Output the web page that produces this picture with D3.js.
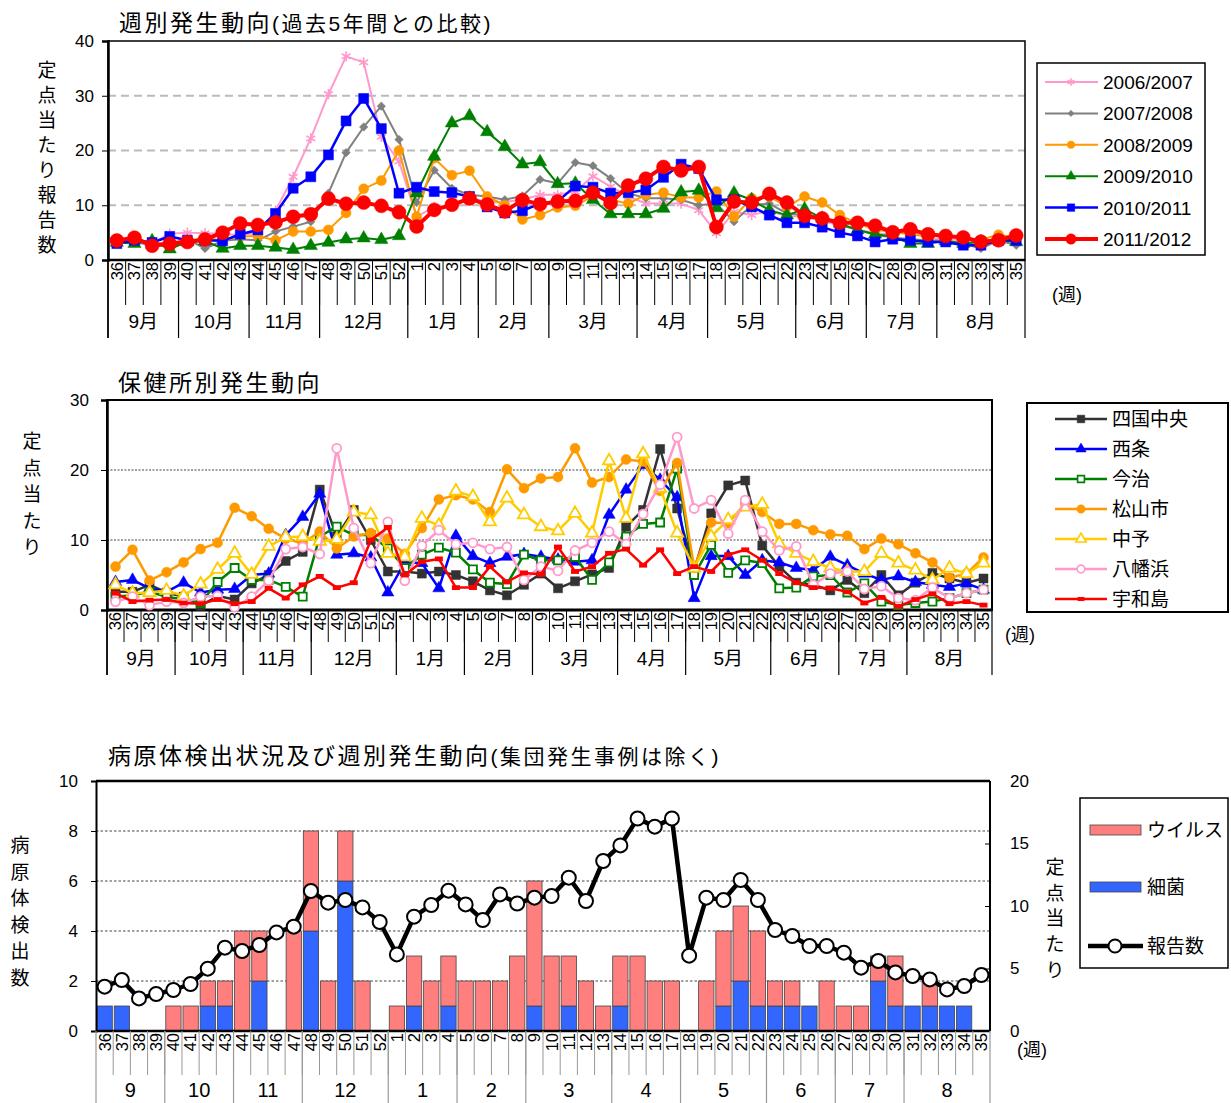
<!DOCTYPE html>
<html><head><meta charset="utf-8">
<script src="https://cdn.jsdelivr.net/npm/d3@7"></script>
<style>
body{margin:0;background:#fff;}
svg{font-family:"Liberation Sans","Noto Sans CJK JP",sans-serif;}
</style></head><body>
<svg id="c" width="1231" height="1103"></svg>
<script>
// ---- week / month categories (season starts at week 36) ----
const weeks = [36,37,38,39,40,41,42,43,44,45,46,47,48,49,50,51,52,
  1,2,3,4,5,6,7,8,9,10,11,12,13,14,15,16,17,
  18,19,20,21,22,23,24,25,26,27,28,29,30,31,32,33,34,35];
const months = ["9","10","11","12","1","2","3","4","5","6","7","8"];
const monthWeeks = [4,4,4,5,4,4,5,4,5,4,4,5];

// ---- chart 1: reports per sentinel, this season vs previous 5 seasons ----
const seasonNames = ["2006/2007","2007/2008","2008/2009","2009/2010","2010/2011","2011/2012"];
const s2006 = [3.8,3.5,3.0,4.8,5.0,4.9,4.8,4.5,5.0,9.0,15.2,22.2,30.3,37.2,36.1,22.5,18.0,
  7.9,9.7,10.0,11.5,10.5,10.6,11.0,11.9,11.9,12.5,15.3,13.4,11.6,10.3,10.3,10.3,9.1,
  4.9,8.8,8.2,9.0,8.0,8.0,7.0,6.5,5.5,5.0,4.5,5.5,4.0,3.8,3.6,3.3,3.4,3.5];
const s2007 = [3.5,3.2,2.8,3.0,3.8,2.1,3.5,3.8,3.6,5.2,6.1,7.0,12.2,19.6,24.3,28.1,22.0,
  10.5,16.4,13.1,11.9,11.6,11.0,11.7,14.7,14.0,17.8,17.2,14.9,12.2,11.3,11.3,11.0,10.0,
  10.3,7.0,10.0,10.3,8.5,8.2,7.6,6.4,5.5,4.6,4.1,3.8,3.6,3.5,3.0,2.1,3.6,2.7];
const s2008 = [3.8,3.5,3.0,3.2,3.5,4.0,3.6,4.3,4.4,3.6,5.2,5.2,5.5,8.6,13.0,14.5,20.0,
  7.9,18.6,15.5,16.3,11.6,10.0,7.4,8.2,9.6,9.9,11.7,11.0,10.3,11.9,12.3,11.4,11.4,
  12.5,7.9,11.3,11.6,9.7,11.6,10.5,8.2,6.7,5.5,5.2,4.6,4.4,4.6,4.0,3.7,4.6,4.1];
const s2009 = [3.2,3.0,3.5,2.0,3.3,3.5,2.1,2.6,2.6,2.3,1.9,2.6,3.2,3.8,4.0,3.7,4.4,
  12.2,18.9,25.0,26.3,23.4,20.7,17.5,17.9,13.9,14.0,11.0,8.4,8.4,8.4,9.4,12.4,12.7,
  9.5,12.2,11.0,9.1,8.2,9.3,7.6,6.7,5.5,4.7,4.3,3.0,3.0,3.5,3.0,3.3,3.6,3.3];
const s2010 = [3.0,3.6,3.2,4.3,3.6,3.6,3.5,4.7,5.5,8.5,13.1,15.2,19.2,25.4,29.5,24.0,12.2,
  13.3,12.5,12.3,11.6,9.7,8.6,9.0,10.3,10.7,13.5,13.3,12.2,12.3,12.8,15.1,17.5,16.7,
  11.0,11.0,9.7,8.2,6.8,6.8,6.0,5.0,4.4,3.3,3.8,3.6,3.3,3.3,2.7,2.7,3.6,3.6];
const s2011 = [3.55,4.08,2.61,2.96,3.28,3.76,4.99,6.67,6.4,6.88,7.89,8.35,11.2,10.27,10.48,9.89,8.72,
  6.13,9.15,10.08,11.23,10.13,8.88,10.93,10.2,10.67,10.8,12.27,10.4,13.6,14.85,17.0,16.35,17.0,
  6.03,10.67,10.48,12.08,10.48,8.08,7.6,6.8,6.8,6.27,5.07,5.6,4.69,4.4,4.13,3.33,3.6,4.48];
const topTicks = [0,10,20,30,40];

// ---- chart 2: per health-centre district ----
const districtNames = ["四国中央","西条","今治","松山市","中予","八幡浜","宇和島"];
const dShikoku = [2.6,2.6,3.6,2.5,1.9,0.6,2.0,1.5,3.8,5.0,7.0,8.3,17.2,10.5,14.3,10.0,5.5,
  5.5,5.2,5.5,5.0,4.1,2.8,2.1,3.6,5.2,3.1,4.1,5.1,6.0,11.9,14.3,23.0,14.5,
  5.7,13.8,17.8,18.5,9.2,6.2,3.9,3.6,2.8,4.3,2.4,5.0,2.1,3.9,5.3,4.5,3.9,4.5];
const dSaijo = [4.0,4.3,3.1,2.6,3.9,2.5,2.9,3.0,5.0,5.2,10.7,13.3,16.6,7.9,8.1,7.5,2.5,
  6.8,6.7,3.1,10.6,7.7,6.7,7.6,8.0,7.6,7.2,6.9,7.1,13.6,17.2,20.7,18.6,16.1,
  1.7,7.7,7.7,5.0,7.1,6.8,6.0,5.7,7.6,6.4,5.2,4.3,4.8,4.0,3.6,3.3,3.8,2.9];
const dImabari = [1.9,2.1,2.6,1.9,1.5,1.0,4.0,6.0,4.3,4.3,3.3,1.9,10.5,11.9,10.7,10.7,8.8,
  6.0,7.9,8.9,8.2,5.8,3.9,3.7,7.9,7.1,7.1,7.6,4.3,6.8,10.5,12.3,12.5,20.2,
  5.0,9.3,5.3,7.1,6.7,3.1,3.2,4.8,5.0,2.5,3.8,1.2,0.7,1.0,1.2,1.7,2.4,2.9];
const dMatsuyama = [6.2,8.6,4.2,5.4,6.8,8.7,9.6,14.6,13.4,11.6,10.2,9.5,11.2,8.8,10.5,11.0,10.2,
  8.0,11.7,15.8,16.4,15.8,14.0,20.1,17.4,18.8,19.0,23.1,18.2,19.0,21.5,21.2,17.0,21.0,
  6.0,12.5,12.4,15.2,14.0,12.3,12.3,11.4,10.8,10.6,8.7,10.2,9.4,8.1,6.8,4.6,5.2,7.5];
const dChuyo = [3.6,2.4,2.5,2.8,2.0,3.7,5.8,8.1,5.1,9.1,10.4,10.5,9.8,10.1,14.0,13.6,8.1,
  7.6,13.1,12.1,17.0,16.2,12.6,16.0,13.6,11.9,11.3,13.8,11.0,21.3,13.1,22.3,17.4,11.0,
  6.0,10.5,12.9,14.7,15.1,9.5,8.1,6.9,6.0,5.5,5.5,8.1,6.7,5.7,4.3,6.0,5.2,6.7];
const dYawatahama = [1.2,1.9,0.7,1.2,1.0,1.9,2.0,0.4,1.9,4.2,8.7,9.0,8.0,23.1,11.7,6.7,12.6,
  4.2,9.2,11.4,9.4,9.6,8.7,9.0,4.3,6.2,5.6,8.5,9.6,11.2,9.4,13.7,17.9,24.7,
  14.5,15.7,10.9,15.7,11.2,8.5,9.1,3.6,5.2,5.5,3.0,3.4,1.7,1.4,3.2,1.7,2.4,2.9];
const dUwajima = [2.4,1.2,1.4,1.5,1.0,0.9,1.5,0.9,1.2,3.1,1.7,3.6,4.8,3.2,3.9,10.0,11.8,
  5.0,6.9,7.3,3.2,3.2,6.2,4.0,5.3,5.1,9.0,5.5,6.2,8.1,8.7,6.4,8.6,5.2,
  6.2,5.5,7.9,8.6,7.1,5.2,3.9,3.2,3.1,2.6,1.0,1.8,0.5,1.5,2.3,0.9,1.2,0.7];
const midTicks = [0,10,20,30];

// ---- chart 3: pathogen detections (stacked) and weekly reports ----
const virus = [0,0,0,0,1,1,1,1,4,2,0,4,4,2,2,2,0,
  1,2,2,2,2,2,2,3,5,3,2,2,1,2,3,2,2,
  0,2,3,3,3,1,1,0,2,1,1,1,2,0,1,0,0,0];
const bacteria = [1,1,0,0,0,0,1,1,0,2,0,0,4,0,6,0,0,
  0,1,0,1,0,0,0,0,1,0,1,0,0,1,0,0,0,
  0,0,1,2,1,1,1,1,0,0,0,2,1,1,1,1,1,0];
const reports = s2011;
const leftTicks = [0,2,4,6,8,10];
const rightTicks = [0,5,10,15,20];

const svg = d3.select("#c");

// marker drawing helper
function marker(g, type, size, color, filled, sw) {
  let p;
  if (type === "star") {
    p = g.append("path").attr("d", d3.symbol(d3.symbolAsterisk, size*size*0.9)())
      .attr("fill","none").attr("stroke", color).attr("stroke-width", sw||1.6);
    return p;
  }
  if (type === "dash") {
    return g.append("rect").attr("x",-size/2).attr("y",-size*0.3).attr("width",size).attr("height",size*0.6)
      .attr("fill",color);
  }
  let sym = {circle:d3.symbolCircle, square:d3.symbolSquare, triangle:d3.symbolTriangle, diamond:d3.symbolSquare}[type];
  let area = type === "circle" ? Math.PI*size*size/4 : type === "triangle" ? size*size*0.45 : size*size;
  p = g.append("path").attr("d", d3.symbol(sym, area)())
    .attr("fill", filled ? color : "#fff").attr("stroke", color).attr("stroke-width", filled ? 0.5 : (sw||2));
  if (type === "diamond") p.attr("transform","rotate(45)");
  return p;
}

// two-row category axis: week numbers (rotated) and months
function weekAxis(x, y0, rowH, monthH, suffix, sepColor, monthColor, fs, mfs) {
  const g = svg.append("g");
  const right = x.range()[1];
  const bw = x.bandwidth();
  g.selectAll(null).data(weeks.slice(1)).join("line")
    .attr("x1", d => x(d)).attr("x2", d => x(d)).attr("y1", y0).attr("y2", y0 + rowH)
    .attr("stroke", sepColor).attr("stroke-width", 1);
  const bounds = [0];
  monthWeeks.forEach(n => bounds.push(bounds[bounds.length-1] + n));
  const bx = i => i < weeks.length ? x(weeks[i]) : right;
  g.selectAll(null).data(bounds).join("line")
    .attr("x1", bx).attr("x2", bx).attr("y1", y0).attr("y2", y0 + rowH + monthH)
    .attr("stroke", monthColor).attr("stroke-width", 1.2);
  g.selectAll(null).data(weeks).join("text")
    .attr("transform", d => `translate(${x(d) + bw/2 + fs*0.36},${y0 + 2}) rotate(-90)`)
    .attr("text-anchor","end").attr("font-size", fs).attr("fill","#000")
    .text(d => d);
  g.selectAll(null).data(months).join("text")
    .attr("x", (d,i) => (bx(bounds[i]) + bx(bounds[i+1]))/2)
    .attr("y", y0 + rowH + monthH/2 + mfs*0.36)
    .attr("text-anchor","middle").attr("font-size", mfs).text(d => d + suffix);
  return g;
}

function vertLabel(text, x, y, step, fs) {
  svg.append("g").selectAll(null).data(Array.from(text)).join("text")
    .attr("x", x).attr("y", (d,i) => y + i*step).attr("text-anchor","middle")
    .attr("font-size", fs).text(d => d);
}

// =================== Chart 1 ===================
{
  const x = d3.scaleBand().domain(weeks).range([108, 1025]);
  const y = d3.scaleLinear().domain([0, 40]).range([260, 41]);
  const bw = x.bandwidth();
  const cx = (d,i) => x(weeks[i]) + bw/2;

  svg.append("text").attr("x",119).attr("y",31).attr("font-size",23).attr("letter-spacing",2.5)
    .text("週別発生動向").append("tspan").attr("font-size",21).attr("letter-spacing",2.5).text("(過去5年間との比較)");

  svg.append("g").selectAll(null).data([10,20,30]).join("line")
    .attr("x1",108).attr("x2",1025).attr("y1",d=>y(d)).attr("y2",d=>y(d))
    .attr("stroke","#bbb").attr("stroke-width",2).attr("stroke-dasharray","8,5");
  svg.append("rect").attr("x",108).attr("y",41).attr("width",917).attr("height",219)
    .attr("fill","none").attr("stroke","#000").attr("stroke-width",1.5);

  const ax = svg.append("g").attr("transform","translate(108,0)")
    .call(d3.axisLeft(y).tickValues(topTicks).tickSize(6).tickPadding(8));
  ax.select(".domain").attr("stroke-width",2.5);
  ax.selectAll("text").attr("font-size",17).attr("font-family","Liberation Sans");
  svg.append("line").attr("x1",108).attr("x2",1025).attr("y1",260).attr("y2",260).attr("stroke","#000").attr("stroke-width",2.5);

  weekAxis(x, 260, 45, 33, "月", "#000", "#000", 16.5, 19);
  svg.append("line").attr("x1",108).attr("x2",108).attr("y1",260).attr("y2",338).attr("stroke","#000").attr("stroke-width",1.5);
  svg.append("text").attr("x",1052).attr("y",301).attr("font-size",18).text("(週)");

  vertLabel("定点当たり報告数", 47, 77, 25, 19);

  const series = [
    {v:s2006, c:"#FF99CC", m:"star", ms:9, w:2},
    {v:s2007, c:"#808080", m:"diamond", ms:6, w:2},
    {v:s2008, c:"#FF9900", m:"circle", ms:10, w:2},
    {v:s2009, c:"#008000", m:"triangle", ms:13, w:2},
    {v:s2010, c:"#0000FF", m:"square", ms:10, w:2.5},
    {v:s2011, c:"#FF0000", m:"circle", ms:14, w:4}
  ];
  series.forEach(s => {
    const g = svg.append("g");
    g.append("path").attr("d", d3.line().x(cx).y(d => y(d))(s.v))
      .attr("fill","none").attr("stroke",s.c).attr("stroke-width",s.w).attr("stroke-linejoin","round");
    s.v.forEach((d,i) => {
      const mg = g.append("g").attr("transform",`translate(${cx(d,i)},${y(d)})`);
      marker(mg, s.m, s.ms, s.c, true);
    });
  });

  // legend
  const lg = svg.append("g");
  lg.append("rect").attr("x",1037).attr("y",63).attr("width",168).attr("height",192)
    .attr("fill","#fff").attr("stroke","#000").attr("stroke-width",1.5);
  series.forEach((s,i) => {
    const yy = 82 + i*31.4;
    lg.append("line").attr("x1",1045).attr("x2",1098).attr("y1",yy).attr("y2",yy)
      .attr("stroke",s.c).attr("stroke-width",s.w);
    marker(lg.append("g").attr("transform",`translate(1071,${yy})`), s.m, s.ms*0.75, s.c, true);
    lg.append("text").attr("x",1103).attr("y",yy+7).attr("font-size",19).text(seasonNames[i]);
  });
}

// =================== Chart 2 ===================
{
  const x = d3.scaleBand().domain(weeks).range([107, 992]);
  const y = d3.scaleLinear().domain([0, 30]).range([610, 400]);
  const bw = x.bandwidth();
  const cx = (d,i) => x(weeks[i]) + bw/2;

  svg.append("text").attr("x",118).attr("y",391).attr("font-size",23).attr("letter-spacing",2.5).text("保健所別発生動向");

  svg.append("g").selectAll(null).data([10,20]).join("line")
    .attr("x1",107).attr("x2",992).attr("y1",d=>y(d)).attr("y2",d=>y(d))
    .attr("stroke","#444").attr("stroke-width",1).attr("stroke-dasharray","2,1.5");
  svg.append("rect").attr("x",107).attr("y",400).attr("width",885).attr("height",210)
    .attr("fill","none").attr("stroke","#000").attr("stroke-width",2);

  const ax = svg.append("g").attr("transform","translate(107,0)")
    .call(d3.axisLeft(y).tickValues(midTicks).tickSize(6).tickPadding(12));
  ax.select(".domain").attr("stroke-width",2.5);
  ax.selectAll("text").attr("font-size",17).attr("font-family","Liberation Sans");
  svg.append("line").attr("x1",107).attr("x2",992).attr("y1",610).attr("y2",610).attr("stroke","#000").attr("stroke-width",3);

  weekAxis(x, 610, 32, 33, "月", "#000", "#000", 16.5, 19);
  svg.append("line").attr("x1",107).attr("x2",107).attr("y1",610).attr("y2",675).attr("stroke","#000").attr("stroke-width",1.5);
  svg.append("text").attr("x",1005).attr("y",641).attr("font-size",18).text("(週)");

  vertLabel("定点当たり", 32, 448, 26.5, 19);

  const series = [
    {v:dShikoku, c:"#333333", m:"square", ms:9, f:true},
    {v:dSaijo, c:"#0000FF", m:"triangle", ms:12, f:true},
    {v:dImabari, c:"#008000", m:"square", ms:8, f:false},
    {v:dMatsuyama, c:"#FF9900", m:"circle", ms:10, f:true},
    {v:dChuyo, c:"#FFCC00", m:"triangle", ms:12, f:false},
    {v:dYawatahama, c:"#FF99CC", m:"circle", ms:9, f:false},
    {v:dUwajima, c:"#FF0000", m:"dash", ms:8, f:true}
  ];
  series.forEach(s => {
    const g = svg.append("g");
    g.append("path").attr("d", d3.line().x(cx).y(d => y(d))(s.v))
      .attr("fill","none").attr("stroke",s.c).attr("stroke-width",2.5).attr("stroke-linejoin","round");
    s.v.forEach((d,i) => {
      marker(g.append("g").attr("transform",`translate(${cx(d,i)},${y(d)})`), s.m, s.ms, s.c, s.f, 1.8);
    });
  });

  const lg = svg.append("g");
  lg.append("rect").attr("x",1027).attr("y",403).attr("width",201).attr("height",209)
    .attr("fill","#fff").attr("stroke","#000").attr("stroke-width",2);
  series.forEach((s,i) => {
    const yy = 419 + i*30;
    lg.append("line").attr("x1",1055).attr("x2",1107).attr("y1",yy).attr("y2",yy)
      .attr("stroke",s.c).attr("stroke-width",2.5);
    marker(lg.append("g").attr("transform",`translate(1081,${yy})`), s.m, s.ms*0.85, s.c, s.f, 1.6);
    lg.append("text").attr("x",1112).attr("y",yy+7).attr("font-size",19).text(districtNames[i]);
  });
}

// =================== Chart 3 ===================
{
  const x = d3.scaleBand().domain(weeks).range([96, 990]).paddingInner(0.11).paddingOuter(0.06);
  const xc = d3.scaleBand().domain(weeks).range([96, 990]);
  const y = d3.scaleLinear().domain([0, 10]).range([1031, 781]);
  const y2 = d3.scaleLinear().domain([0, 20]).range([1031, 781]);
  const cx = (d,i) => xc(weeks[i]) + xc.bandwidth()/2;

  const t = svg.append("text").attr("x",108).attr("y",764).attr("font-size",23).attr("letter-spacing",2.5)
    .text("病原体検出状況及び週別発生動向");
  t.append("tspan").attr("font-size",21).attr("letter-spacing",2.5).text("(集団発生事例は除く)");

  svg.append("g").selectAll(null).data([2,4,6,8]).join("line")
    .attr("x1",96).attr("x2",990).attr("y1",d=>y(d)).attr("y2",d=>y(d))
    .attr("stroke","#444").attr("stroke-width",1).attr("stroke-dasharray","2.5,2");

  const stack = d3.stack().keys(["bacteria","virus"])(weeks.map((w,i) => ({w, bacteria:bacteria[i], virus:virus[i]})));
  const colors = {bacteria:"#3366FF", virus:"#FF7F7F"};
  stack.forEach(layer => {
    svg.append("g").selectAll(null).data(layer.filter(d => d[1] > d[0])).join("rect")
      .attr("x", d => x(d.data.w)).attr("width", x.bandwidth())
      .attr("y", d => y(d[1])).attr("height", d => y(d[0]) - y(d[1]))
      .attr("fill", colors[layer.key]).attr("stroke","#444").attr("stroke-width",0.8);
  });

  svg.append("line").attr("x1",96).attr("x2",990).attr("y1",781).attr("y2",781).attr("stroke","#000").attr("stroke-width",2.5);
  svg.append("line").attr("x1",990).attr("x2",990).attr("y1",781).attr("y2",1031).attr("stroke","#000").attr("stroke-width",2);

  const ax = svg.append("g").attr("transform","translate(96,0)")
    .call(d3.axisLeft(y).tickValues(leftTicks).tickSize(5).tickPadding(13));
  ax.select(".domain").attr("stroke-width",2);
  ax.selectAll("text").attr("font-size",17).attr("font-family","Liberation Sans");
  const ax2 = svg.append("g").attr("transform","translate(990,0)")
    .call(d3.axisRight(y2).tickValues(rightTicks).tickSize(-5).tickPadding(20));
  ax2.select(".domain").remove();
  ax2.selectAll("text").attr("font-size",17).attr("font-family","Liberation Sans");
  svg.append("line").attr("x1",96).attr("x2",990).attr("y1",1031).attr("y2",1031).attr("stroke","#000").attr("stroke-width",2.5);

  weekAxis(xc, 1031, 44, 30, "", "#999", "#999", 16.5, 20);
  svg.append("text").attr("x",1017).attr("y",1056).attr("font-size",18).text("(週)");

  vertLabel("病原体検出数", 20, 852, 26.5, 19);
  vertLabel("定点当たり", 1055, 874, 25.7, 19);

  svg.append("path").attr("d", d3.line().x(cx).y(d => y2(d))(reports))
    .attr("fill","none").attr("stroke","#000").attr("stroke-width",4.5).attr("stroke-linejoin","round");
  svg.append("g").selectAll(null).data(reports).join("circle")
    .attr("cx", cx).attr("cy", d => y2(d)).attr("r",7)
    .attr("fill","#fff").attr("stroke","#000").attr("stroke-width",2);

  const lg = svg.append("g");
  lg.append("rect").attr("x",1080).attr("y",798).attr("width",148).attr("height",170)
    .attr("fill","#fff").attr("stroke","#000").attr("stroke-width",1.5);
  lg.append("rect").attr("x",1090).attr("y",825).attr("width",51).attr("height",10).attr("fill",colors.virus).attr("stroke","#444").attr("stroke-width",0.8);
  lg.append("text").attr("x",1147).attr("y",837).attr("font-size",19).text("ウイルス");
  lg.append("rect").attr("x",1090).attr("y",882).attr("width",51).attr("height",10).attr("fill",colors.bacteria).attr("stroke","#444").attr("stroke-width",0.8);
  lg.append("text").attr("x",1147).attr("y",894).attr("font-size",19).text("細菌");
  lg.append("line").attr("x1",1088).attr("x2",1143).attr("y1",946).attr("y2",946).attr("stroke","#000").attr("stroke-width",4.5);
  lg.append("circle").attr("cx",1115).attr("cy",946).attr("r",6.5).attr("fill","#fff").attr("stroke","#000").attr("stroke-width",2);
  lg.append("text").attr("x",1147).attr("y",953).attr("font-size",19).text("報告数");
}
</script>
</body></html>
